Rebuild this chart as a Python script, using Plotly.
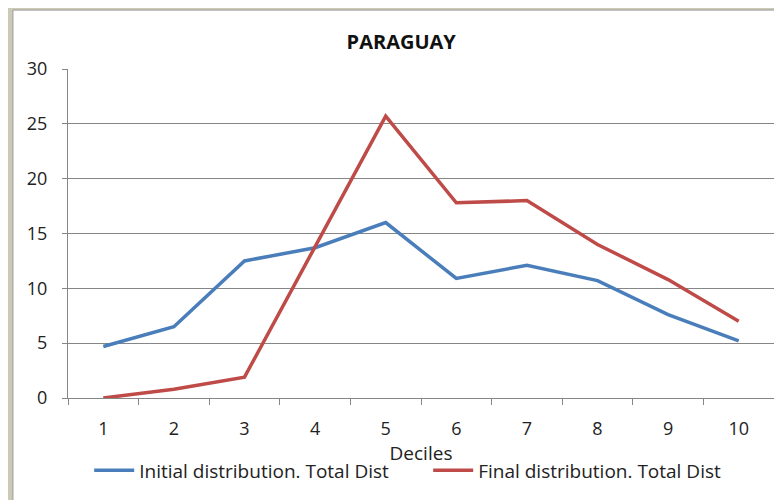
import plotly.graph_objects as go

deciles = ["1", "2", "3", "4", "5", "6", "7", "8", "9", "10"]
initial_dist = [4.7, 6.5, 12.5, 13.7, 16.0, 10.9, 12.1, 10.7, 7.6, 5.2]
final_dist = [0.0, 0.8, 1.9, 13.8, 25.7, 17.8, 18.0, 14.0, 10.8, 7.0]

y_ticks = [0, 5, 10, 15, 20, 25, 30]

font_name = "Open Sans"
text_color = "#222222"

fig = go.Figure()

fig.add_trace(go.Scatter(
    x=deciles, y=initial_dist, mode="lines",
    name="Initial distribution. Total Dist",
    line=dict(color="#4A7EBB", width=3.5),
))
fig.add_trace(go.Scatter(
    x=deciles, y=final_dist, mode="lines",
    name="Final distribution. Total Dist",
    line=dict(color="#BE4B48", width=3.5),
))

# white chart area with a thin frame over the beige window background
fig.add_shape(
    type="rect", xref="paper", yref="paper",
    x0=-0.078, x1=1.02, y0=-0.35, y1=1.179,
    fillcolor="white", line=dict(color="#9a9a9a", width=1),
    layer="below",
)

fig.update_xaxes(
    type="category",
    range=[-0.5, 9.5],
    automargin=False,
    showgrid=False,
    showline=True, linecolor="#868686", linewidth=1,
    ticks="outside", tickson="boundaries", ticklen=6, tickcolor="#868686",
    ticklabelstandoff=14,
    tickfont=dict(family=font_name, size=18, color=text_color),
    title=dict(text="Deciles", standoff=0,
               font=dict(family=font_name, size=19, color=text_color)),
)
fig.update_yaxes(
    range=[0, 30],
    automargin=False,
    tickvals=y_ticks,
    showgrid=True, gridcolor="#868686", gridwidth=1,
    zeroline=False,
    showline=True, linecolor="#868686", linewidth=1,
    ticks="outside", ticklen=5, tickcolor="#868686",
    ticklabelstandoff=11,
    tickfont=dict(family=font_name, size=18, color=text_color),
)

# page body adds an 8px offset, so the figure is sized to fill the rest
fig.update_layout(
    width=774, height=492,
    margin=dict(l=60, r=8, t=61, b=102, autoexpand=False),
    paper_bgcolor="#cdc9b7",
    plot_bgcolor="white",
    title=dict(text="<b>PARAGUAY</b>", x=0.472, xref="paper", xanchor="center",
               y=0.931, yref="container", yanchor="middle",
               font=dict(family=font_name, size=20, color="#111111")),
    showlegend=True,
    legend=dict(orientation="h", x=0.03, xanchor="left", y=-0.22, yanchor="middle",
                font=dict(family=font_name, size=19, color=text_color),
                bgcolor="rgba(0,0,0,0)", itemwidth=40, tracegroupgap=0,
                entrywidth=284, entrywidthmode="pixels"),
)

fig.write_html("out.html")
